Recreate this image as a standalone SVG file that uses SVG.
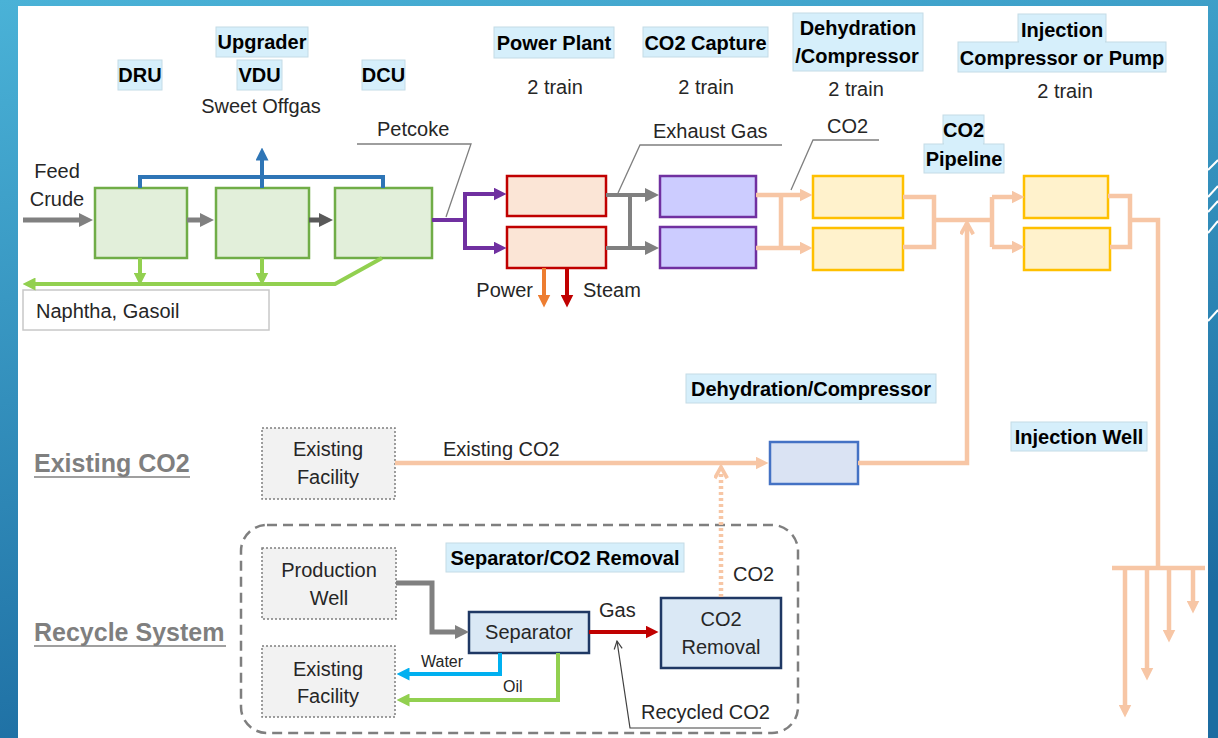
<svg xmlns="http://www.w3.org/2000/svg" width="1218" height="738" viewBox="0 0 1218 738">
<defs>
<linearGradient id="bg" x1="0" y1="0" x2="0.3" y2="1">
<stop offset="0" stop-color="#4ab2d7"/>
<stop offset="1" stop-color="#1c6ca1"/>
</linearGradient>
<marker id="a-gray" viewBox="0 0 10 10" refX="5" refY="5" markerWidth="14" markerHeight="14" markerUnits="userSpaceOnUse" orient="auto"><path d="M0,0 L10,5 L0,10 z" fill="#808080"/></marker>
<marker id="a-dgray" viewBox="0 0 10 10" refX="5" refY="5" markerWidth="14" markerHeight="14" markerUnits="userSpaceOnUse" orient="auto"><path d="M0,0 L10,5 L0,10 z" fill="#595959"/></marker>
<marker id="a-blue" viewBox="0 0 10 10" refX="5" refY="5" markerWidth="13" markerHeight="13" markerUnits="userSpaceOnUse" orient="auto"><path d="M0,0 L10,5 L0,10 z" fill="#2e75b6"/></marker>
<marker id="a-green" viewBox="0 0 10 10" refX="5" refY="5" markerWidth="13" markerHeight="13" markerUnits="userSpaceOnUse" orient="auto"><path d="M0,0 L10,5 L0,10 z" fill="#92d050"/></marker>
<marker id="a-purple" viewBox="0 0 10 10" refX="5" refY="5" markerWidth="13" markerHeight="13" markerUnits="userSpaceOnUse" orient="auto"><path d="M0,0 L10,5 L0,10 z" fill="#7030a0"/></marker>
<marker id="a-orange" viewBox="0 0 10 10" refX="5" refY="5" markerWidth="13" markerHeight="13" markerUnits="userSpaceOnUse" orient="auto"><path d="M0,0 L10,5 L0,10 z" fill="#ed7d31"/></marker>
<marker id="a-red" viewBox="0 0 10 10" refX="5" refY="5" markerWidth="13" markerHeight="13" markerUnits="userSpaceOnUse" orient="auto"><path d="M0,0 L10,5 L0,10 z" fill="#c00000"/></marker>
<marker id="a-peach" viewBox="0 0 10 10" refX="5" refY="5" markerWidth="13" markerHeight="13" markerUnits="userSpaceOnUse" orient="auto"><path d="M0,0 L10,5 L0,10 z" fill="#f7c6a5"/></marker>
<marker id="a-cyan" viewBox="0 0 10 10" refX="5" refY="5" markerWidth="13" markerHeight="13" markerUnits="userSpaceOnUse" orient="auto"><path d="M0,0 L10,5 L0,10 z" fill="#00b0f0"/></marker>
<marker id="a-chev" viewBox="0 0 12 12" refX="10" refY="6" markerWidth="15" markerHeight="15" markerUnits="userSpaceOnUse" orient="auto"><path d="M1,1 L10,6 L1,11" fill="none" stroke="#f7c6a5" stroke-width="3"/></marker>
<marker id="a-thin" viewBox="0 0 10 10" refX="9" refY="5" markerWidth="10" markerHeight="10" markerUnits="userSpaceOnUse" orient="auto"><path d="M1,1 L9,5 L1,9" fill="none" stroke="#404040" stroke-width="1.2"/></marker>
</defs>
<style>
.lbl{fill:#d6effb;stroke:#c4dbe6;stroke-width:1}
.lt{font-family:"Liberation Sans",Arial,sans-serif;font-weight:bold;font-size:20px;fill:#000;text-anchor:middle}
.t{font-family:"Liberation Sans",Arial,sans-serif;font-size:20px;fill:#262626}
.tm{text-anchor:middle}
.ts{font-size:16px}
.title{font-family:"Liberation Sans",Arial,sans-serif;font-weight:bold;font-size:25px;fill:#7f7f7f}
.green{fill:#e2efda;stroke:#70ad47;stroke-width:2.5}
.red{fill:#fbe5d6;stroke:#c00000;stroke-width:2.5}
.purp{fill:#ccccff;stroke:#7030a0;stroke-width:2.5}
.yel{fill:#fff2cc;stroke:#ffc000;stroke-width:2.5}
.dblue{fill:#dae3f3;stroke:#4472c4;stroke-width:2.5}
.sep{fill:#dae8f5;stroke:#1f3864;stroke-width:2.5}
.exist{fill:#f2f2f2;stroke:#7f7f7f;stroke-width:1.5;stroke-dasharray:2 2}
.c{fill:none;stroke-linejoin:miter}
.gray{stroke:#808080;stroke-width:5}
.dg{stroke:#595959;stroke-width:5}
.bl{stroke:#2e75b6;stroke-width:4}
.gr{stroke:#92d050;stroke-width:4}
.pu{stroke:#7030a0;stroke-width:4}
.or{stroke:#ed7d31;stroke-width:4}
.rd{stroke:#c00000;stroke-width:4}
.pe{stroke:#f7c6a5;stroke-width:4.5}
.cy{stroke:#00b0f0;stroke-width:4}
.lead{stroke:#7f7f7f;stroke-width:1.3}
</style>
<rect x="0" y="0" width="1218" height="738" fill="url(#bg)"/>
<rect x="18" y="6" width="1190" height="732" fill="#ffffff"/>
<g id="deco" stroke="#ffffff" stroke-width="2">
<line x1="1208" y1="170" x2="1218" y2="160"/>
<line x1="1208" y1="197" x2="1218" y2="186"/>
<line x1="1208" y1="212" x2="1218" y2="201"/>
<line x1="1208" y1="233" x2="1218" y2="221"/>
<line x1="1208" y1="321" x2="1218" y2="310"/>
</g>

<g id="labels">
<rect class="lbl" x="118" y="60" width="44" height="30"/><text class="lt" x="140" y="82">DRU</text>
<rect class="lbl" x="216" y="27" width="92" height="30"/><text class="lt" x="262" y="49">Upgrader</text>
<rect class="lbl" x="237" y="60" width="45" height="30"/><text class="lt" x="259.5" y="82">VDU</text>
<rect class="lbl" x="362" y="60" width="43" height="30"/><text class="lt" x="383.5" y="82">DCU</text>
<rect class="lbl" x="494" y="27" width="120" height="31"/><text class="lt" x="554" y="50">Power Plant</text>
<rect class="lbl" x="643" y="27" width="125" height="30"/><text class="lt" x="705.5" y="50">CO2 Capture</text>
<rect class="lbl" x="793" y="13" width="130" height="58"/><text class="lt" x="858" y="35">Dehydration</text><text class="lt" x="857" y="63">/Compressor</text>
<rect class="lbl" x="1018" y="14" width="88" height="28"/><rect class="lbl" x="958" y="42" width="208" height="30"/>
<rect x="1019" y="40" width="86" height="4" fill="#d6effb"/>
<text class="lt" x="1062" y="37">Injection</text><text class="lt" x="1062" y="65">Compressor or Pump</text>
<rect class="lbl" x="943" y="115" width="41" height="29"/><rect class="lbl" x="924" y="144" width="80" height="29"/>
<rect x="944" y="142" width="39" height="4" fill="#d6effb"/>
<text class="lt" x="963.5" y="137">CO2</text><text class="lt" x="964" y="166">Pipeline</text>
<rect class="lbl" x="686" y="374" width="250" height="29"/><text class="lt" x="811" y="396">Dehydration/Compressor</text>
<rect class="lbl" x="1011" y="422" width="136" height="29"/><text class="lt" x="1079" y="444">Injection Well</text>
<rect class="lbl" x="446" y="543" width="238" height="29"/><text class="lt" x="565" y="565">Separator/CO2 Removal</text>
</g>

<g id="texts">
<text class="t tm" x="261" y="113">Sweet Offgas</text>
<text class="t" x="377" y="136">Petcoke</text>
<text class="t tm" x="57" y="178">Feed</text>
<text class="t tm" x="57" y="206">Crude</text>
<text class="t tm" x="555" y="94">2 train</text>
<text class="t tm" x="706" y="94">2 train</text>
<text class="t tm" x="856" y="96">2 train</text>
<text class="t tm" x="1065" y="98">2 train</text>
<text class="t" x="653" y="138">Exhaust Gas</text>
<text class="t" x="827" y="133">CO2</text>
<text class="t" x="533" y="297" text-anchor="end">Power</text>
<text class="t" x="583" y="297">Steam</text>
<text class="t" x="443" y="456">Existing CO2</text>
<text class="t" x="599" y="617">Gas</text>
<text class="t" x="733" y="581">CO2</text>
<text class="t ts" x="421" y="667">Water</text>
<text class="t ts" x="503" y="692">Oil</text>
<text class="t" x="641" y="719">Recycled CO2</text>
<text class="title" x="34" y="472">Existing CO2</text>
<line x1="34" y1="477" x2="190" y2="477" stroke="#7f7f7f" stroke-width="1.6"/>
<text class="title" x="34" y="641">Recycle System</text>
<line x1="34" y1="646" x2="226" y2="646" stroke="#7f7f7f" stroke-width="1.6"/>
</g>

<g id="recycle-frame">
<rect x="241" y="525" width="557" height="208" rx="26" fill="none" stroke="#7f7f7f" stroke-width="2.5" stroke-dasharray="10 6"/>
</g>

<g id="naphtha-box"><rect x="23" y="290" width="246" height="40" fill="#ffffff" stroke="#c8c8c8" stroke-width="1.5"/><text class="t" x="36" y="318">Naphtha, Gasoil</text></g>
<g id="dru"><rect class="green" x="95" y="188" width="92" height="70"/></g>
<g id="vdu"><rect class="green" x="216" y="188" width="93" height="70"/></g>
<g id="dcu"><rect class="green" x="335" y="188" width="97" height="70"/></g>
<g id="power-plant-1"><rect class="red" x="507" y="176" width="99" height="40"/></g>
<g id="power-plant-2"><rect class="red" x="507" y="227" width="99" height="41"/></g>
<g id="co2-capture-1"><rect class="purp" x="660" y="176" width="96" height="41"/></g>
<g id="co2-capture-2"><rect class="purp" x="660" y="227" width="96" height="41"/></g>
<g id="dehy-1"><rect class="yel" x="813" y="176" width="90" height="42"/></g>
<g id="dehy-2"><rect class="yel" x="813" y="228" width="90" height="42"/></g>
<g id="inj-1"><rect class="yel" x="1024" y="176" width="84" height="42"/></g>
<g id="inj-2"><rect class="yel" x="1024" y="228" width="86" height="42"/></g>
<g id="dehy-existing"><rect class="dblue" x="770" y="442" width="88" height="42"/></g>
<g id="existing-facility-top"><rect class="exist" x="262" y="428" width="133" height="71"/><text class="t tm" x="328" y="456">Existing</text><text class="t tm" x="328" y="484">Facility</text></g>
<g id="production-well"><rect class="exist" x="262" y="548" width="134" height="71"/><text class="t tm" x="329" y="577">Production</text><text class="t tm" x="329" y="605">Well</text></g>
<g id="existing-facility-bottom"><rect class="exist" x="262" y="646" width="133" height="71"/><text class="t tm" x="328" y="676">Existing</text><text class="t tm" x="328" y="703">Facility</text></g>
<g id="separator"><rect class="sep" x="469" y="612" width="120" height="41"/><text class="t tm" x="529" y="639">Separator</text></g>
<g id="co2-removal"><rect class="sep" x="661" y="598" width="120" height="70"/><text class="t tm" x="721" y="626">CO2</text><text class="t tm" x="721" y="654">Removal</text></g>

<g id="connectors">
<path class="c gray" d="M23,220 H86" marker-end="url(#a-gray)"/>
<path class="c gray" d="M187,220 H207" marker-end="url(#a-gray)"/>
<path class="c dg" d="M309,220 H326" marker-end="url(#a-dgray)"/>
<path class="c bl" d="M140,188 V177 H383 V188"/>
<path class="c bl" d="M262,188 V154" marker-end="url(#a-blue)"/>
<path class="c gr" d="M140,258 V279" marker-end="url(#a-green)"/>
<path class="c gr" d="M262,258 V279" marker-end="url(#a-green)"/>
<path class="c gr" d="M382,258 L335,284 H29" marker-end="url(#a-green)"/>
<path class="c pu" d="M432,220 H465 V194 H500" marker-end="url(#a-purple)"/>
<path class="c pu" d="M465,218 V248 H500" marker-end="url(#a-purple)"/>
<path class="c gray" style="stroke-width:4" d="M606,195 H652" marker-end="url(#a-gray)"/>
<path class="c gray" style="stroke-width:4" d="M606,248 H652" marker-end="url(#a-gray)"/>
<path class="c gray" style="stroke-width:4" d="M630,195 V248"/>
<path class="c or" d="M544,268 V301" marker-end="url(#a-orange)"/>
<path class="c rd" d="M567,268 V301" marker-end="url(#a-red)"/>
<path class="c pe" d="M756,195 H806" marker-end="url(#a-peach)"/>
<path class="c pe" d="M756,248 H806" marker-end="url(#a-peach)"/>
<path class="c pe" d="M781,195 V248"/>
<path class="c pe" d="M903,197 H934 V247 H903"/>
<path class="c pe" d="M934,220 H992"/>
<path class="c pe" d="M992,197 V247"/>
<path class="c pe" d="M992,197 H1018" marker-end="url(#a-peach)"/>
<path class="c pe" d="M992,247 H1018" marker-end="url(#a-peach)"/>
<path class="c pe" d="M1108,196 H1130 V247 H1110"/>
<path class="c pe" d="M1130,220 H1158 V568"/>
<path class="c pe" d="M1112,568 H1205"/>
<path class="c pe" d="M1125,570 V711" marker-end="url(#a-peach)"/>
<path class="c pe" d="M1147,570 V674" marker-end="url(#a-peach)"/>
<path class="c pe" d="M1169,570 V636" marker-end="url(#a-peach)"/>
<path class="c pe" d="M1193,570 V607" marker-end="url(#a-peach)"/>
<path class="c pe" d="M395,463 H762" marker-end="url(#a-peach)"/>
<path class="c pe" d="M858,463 H967 V223" marker-end="url(#a-chev)"/>
<path class="c pe" style="stroke-dasharray:3 3" d="M721,597 V467" marker-end="url(#a-chev)"/>
<path class="c gray" d="M396,583 H432 V632 H462" marker-end="url(#a-gray)"/>
<path class="c rd" d="M589,632 H652" marker-end="url(#a-red)"/>
<path class="c cy" d="M500,653 V674 H403" marker-end="url(#a-cyan)"/>
<path class="c gr" d="M558,653 V700 H403" marker-end="url(#a-green)"/>
<path class="c lead" d="M357,144 H471 L446,217"/>
<path class="c lead" d="M782,145 H640 L618,193"/>
<path class="c lead" d="M879,140 H813 L791,190"/>
<path class="c" stroke="#404040" stroke-width="1.2" d="M761,728 H630 L617,641" marker-end="url(#a-thin)"/>
</g>
</svg>
